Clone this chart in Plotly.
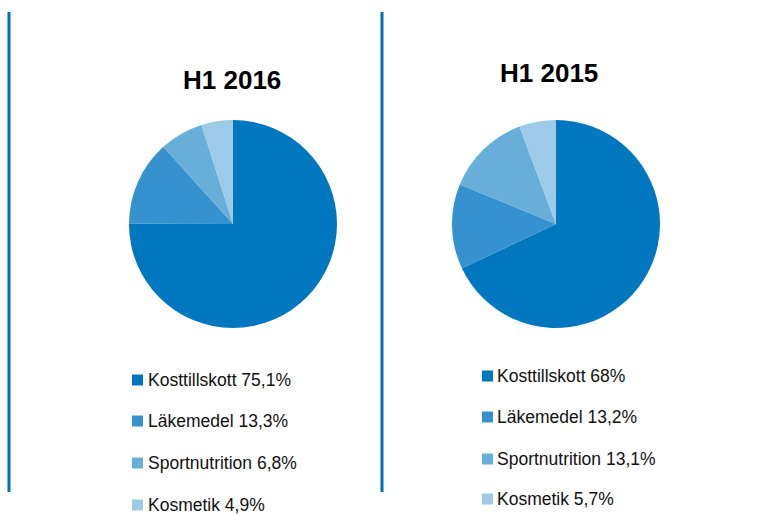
import plotly.graph_objects as go

W, H = 764, 514

categories = ["Kosttillskott", "Läkemedel", "Sportnutrition", "Kosmetik"]
values_2016 = [75.1, 13.3, 6.8, 4.9]
values_2015 = [68.0, 13.2, 13.1, 5.7]
labels_2016 = ["75,1%", "13,3%", "6,8%", "4,9%"]
labels_2015 = ["68%", "13,2%", "13,1%", "5,7%"]
titles = ["H1 2016", "H1 2015"]
colors = ["#0077BE", "#3592CF", "#67AED9", "#9DCAE6"]

def px(x):
    return x / W

def py(y):
    return 1 - y / H

fig = go.Figure()

pies = [
    dict(vals=values_2016, labs=labels_2016, cx=233, cy=224, r=104,
         title=titles[0], tx=232, ty=80,
         mx=132, tx0=146, rows=[380, 421, 463, 505]),
    dict(vals=values_2015, labs=labels_2015, cx=556, cy=224, r=104,
         title=titles[1], tx=549, ty=73,
         mx=482, tx0=495, rows=[376, 417, 459, 499]),
]

shapes = []
annotations = []
for p in pies:
    fig.add_trace(go.Pie(
        labels=categories, values=p["vals"], sort=False, direction="clockwise",
        rotation=0, textinfo="none", showlegend=False,
        marker=dict(colors=colors, line=dict(width=0)),
        domain=dict(x=[px(p["cx"] - p["r"]), px(p["cx"] + p["r"])],
                    y=[py(p["cy"] + p["r"]), py(p["cy"] - p["r"])]),
    ))
    annotations.append(dict(
        text="<b>%s</b>" % p["title"], x=px(p["tx"]), y=py(p["ty"]),
        xref="paper", yref="paper", xanchor="center", yanchor="middle",
        showarrow=False, font=dict(size=26, color="#000000", family="Liberation Sans, Arial")))
    for i, (cat, lab) in enumerate(zip(categories, p["labs"])):
        ry = p["rows"][i]
        shapes.append(dict(type="rect", xref="paper", yref="paper",
                           x0=px(p["mx"]), x1=px(p["mx"] + 11),
                           y0=py(ry + 5.5), y1=py(ry - 5.5),
                           fillcolor=colors[i], line=dict(width=0)))
        annotations.append(dict(
            text="%s %s" % (cat, lab), x=px(p["tx0"]), y=py(ry),
            xref="paper", yref="paper", xanchor="left", yanchor="middle",
            showarrow=False, font=dict(size=17.5, color="#111111", family="Liberation Sans, Arial")))

for lx in [9, 382]:
    shapes.append(dict(type="line", xref="paper", yref="paper",
                       x0=px(lx), x1=px(lx), y0=py(12), y1=py(492),
                       line=dict(color="#0070C0", width=3)))

fig.update_layout(
    width=W, height=H,
    margin=dict(l=0, r=0, t=0, b=0),
    paper_bgcolor="white", plot_bgcolor="white",
    shapes=shapes, annotations=annotations,
)

fig.write_html("out.html", config={"displayModeBar": False},
               post_script="document.body.style.margin='0';document.body.style.overflow='hidden';")
